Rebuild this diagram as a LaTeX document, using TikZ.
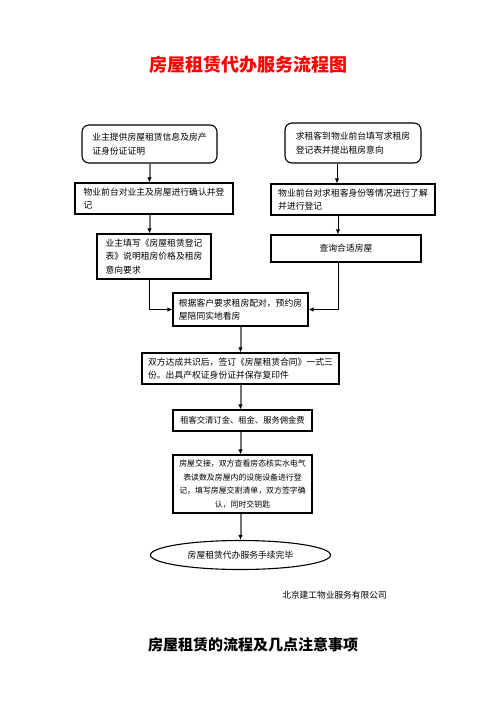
\documentclass[tikz,border=0pt]{standalone}
\usepackage{fontspec}
\setmainfont{Noto Sans CJK SC}
\usepackage{tikz}
\usetikzlibrary{arrows.meta}
\usetikzlibrary{shapes,arrows}

\begin{document}
\begin{tikzpicture}[x=1pt,y=-1pt,draw=black!100]
 	\def \leftx{149.5}
 	\def \rightx{353}
 	\def \midx{240.5}
 	\tikzstyle{box}=[rectangle,draw=black!100,line width=1.1pt,inner sep=0pt,align=left,font=\fontsize{8.8}{13.5}\selectfont]
 	\tikzstyle{r-box}=[box,rounded corners=7pt]
 	\tikzstyle{end-node}=[ellipse,draw=black!100,line width=1.1pt,inner sep=0pt,font=\fontsize{8.8}{13.5}\selectfont]
 	\tikzstyle{g-line}=[draw=black!55,line width=2pt,-{Latex[length=5pt,width=4.5pt,black]}]
 	\tikzstyle{b-line}=[draw=black!100,line width=0.9pt,-{Latex[length=5pt,width=4.5pt]}]
 	\tikzstyle{annot}=[inner sep=0pt]
 	\path[use as bounding box] (0,0) rectangle (496,702);

 	% labels
 	\node[annot,text=red,font=\fontsize{18}{20}\selectfont\bfseries] (title) at (248,65) {房屋租赁代办服务流程图};
 	\node[annot,font=\fontsize{8.7}{10}\selectfont] (company) at (334.5,595) {北京建工物业服务有限公司};
 	\node[annot,font=\fontsize{15}{17}\selectfont\bfseries] (notes) at (253,645) {房屋租赁的流程及几点注意事项};

 	% owner column
 	\node[r-box,minimum width=135pt,minimum height=38pt] 	(owner)		at (\leftx,144)		{业主提供房屋租赁信息及房产\\证身份证证明};
 	\node[box,minimum width=158pt,minimum height=31pt] 	(ownerreg)	at (154,198.5)		{物业前台对业主及房屋进行确认并登\\记};
 	\node[box,minimum width=114pt,minimum height=45pt] 	(ownerform)	at (154,256.5)		{业主填写《房屋租赁登记\\表》说明租房价格及租房\\意向要求};

 	% tenant column
 	\node[r-box,minimum width=136pt,minimum height=40pt] 	(tenant)	at (\rightx,143)	{求租客到物业前台填写求租房\\登记表并提出租房意向};
 	\node[box,minimum width=164pt,minimum height=31pt] 	(tenantreg)	at (\rightx,199.5)	{物业前台对求租客身份等情况进行了解\\并进行登记};
 	\node[box,minimum width=150pt,minimum height=27pt,align=center] 	(search)	at (346,248.5)	{查询合适房屋};

 	% main column
 	\node[box,minimum width=135pt,minimum height=33pt] 	(match)		at (\midx,309.5)	{根据客户要求租房配对，预约房\\屋陪同实地看房};
 	\node[box,minimum width=197pt,minimum height=31pt] 	(contract)	at (\midx,368.5)	{双方达成共识后，签订《房屋租赁合同》一式三\\份。出具产权证身份证并保存复印件};
 	\node[box,minimum width=139pt,minimum height=21pt,align=center,font=\fontsize{8.3}{13}\selectfont] 	(pay)	at (242.5,420.5)	{租客交清订金、租金、服务佣金费};
 	\node[box,minimum width=139pt,minimum height=58pt,align=center,font=\fontsize{7.9}{13.5}\selectfont] 	(handover)	at (242.5,484)	{房屋交接，双方查看房态核实水电气\\表读数及房屋内的设施设备进行登\\记，填写房屋交割清单，双方签字确\\认，同时交钥匙};
 	\node[end-node,minimum width=180pt,minimum height=29pt] 	(done)	at (\midx,555)	{房屋租赁代办服务手续完毕};

 	\path[g-line] (owner.south) -- (owner.south |- ownerreg.north);
 	\path[g-line] (ownerreg.south -| owner.south) -- (ownerform.north -| owner.south);
 	\path[b-line] ([xshift=-16pt]tenant.south) -- ([xshift=-16pt]tenant.south |- tenantreg.north);
 	\path[b-line] ([xshift=-15pt]tenantreg.south) -- ([xshift=-15pt]tenantreg.south |- search.north);
 	\path[b-line] ([xshift=-8pt]search.south) |- (match.east);
 	\path[b-line] (ownerform.south -| owner.south) |- (match.west);
 	\path[g-line] (match.south) -- (match.south |- contract.north);
 	\path[g-line] (contract.south) -- (contract.south |- pay.north);
 	\path[g-line] (pay.south -| contract.south) -- (handover.north -| contract.south);
 	\path[g-line] (handover.south -| contract.south) -- (done.north);

 \end{tikzpicture}
\end{document}
